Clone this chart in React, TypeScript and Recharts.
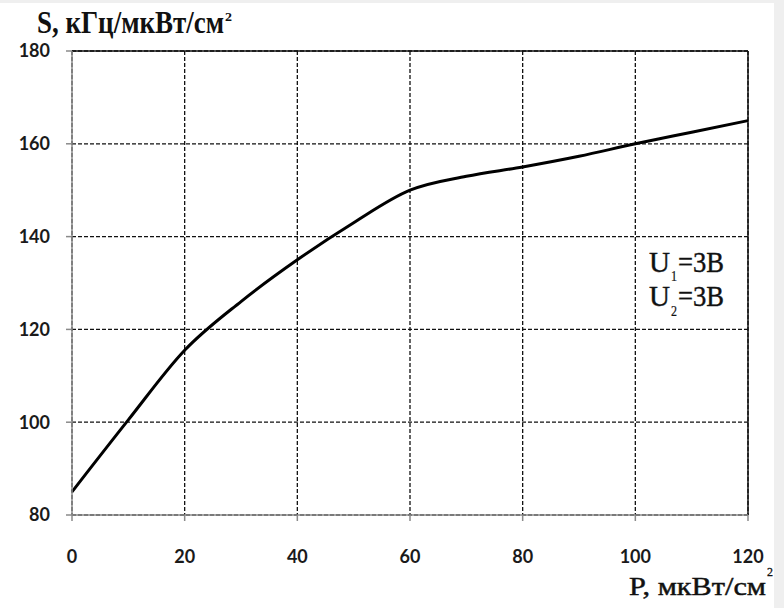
import React from 'react';
import { LineChart, Line, XAxis, YAxis, CartesianGrid, ReferenceLine } from 'recharts';

const pValues = [0, 10, 20, 30, 40, 50, 60, 70, 80, 90, 100, 110, 120];
const sValues = [85, 100.5, 115.5, 126, 135, 143, 150, 153, 155, 157.3, 160, 162.5, 165];
const xTicks = [0, 20, 40, 60, 80, 100, 120];
const yTicks = [80, 100, 120, 140, 160, 180];
const yTitle = 'S, кГц/мкВт/см';
const xTitle = 'P, мкВт/см';
const noteLines = [
  { u: 'U', sub: '1', rest: '=3В' },
  { u: 'U', sub: '2', rest: '=3В' },
];

const data = pValues.map((p, i) => ({ p, s: sValues[i] }));

type STProps = { x: number; y: number; t: string; w: number; fs: number; sy: number; bold?: boolean; sw?: number };
const ST = ({ x, y, t, w, fs, sy, bold, sw }: STProps) => (
  <text
    transform={`translate(${x},${y}) scale(1,${sy})`}
    fontFamily="'Liberation Serif', 'Times New Roman', serif"
    fontSize={fs}
    fontWeight={bold ? 'bold' : 'normal'}
    fill="#111"
    stroke={sw ? '#111' : undefined}
    strokeWidth={sw}
    textLength={w}
    lengthAdjust="spacingAndGlyphs"
  >
    {t}
  </text>
);

const tickStyle = { fontFamily: 'Lato, sans-serif', fontWeight: 'bold', fontSize: 18, fill: '#1a1a1a' };

export default function App() {
  return (
    <div style={{ position: 'absolute', left: 0, top: 0, width: 784, height: 608, background: '#efefef' }}>
      <div style={{ position: 'absolute', left: 0, top: 3, width: 774, height: 605, background: '#fff' }} />
      <div style={{ position: 'absolute', left: 0, top: 0 }}>
        <LineChart width={784} height={608} data={data} margin={{ top: 51, right: 36, bottom: 0, left: 0 }}>
          <CartesianGrid stroke="#111" strokeDasharray="4 2" strokeWidth={1.3} />
          <XAxis
            dataKey="p"
            type="number"
            domain={[0, 120]}
            ticks={xTicks}
            height={93}
            stroke="#8a8a8a"
            strokeWidth={1.5}
            tickSize={6}
            tickMargin={29}
            tick={tickStyle}
            interval={0}
          />
          <YAxis
            type="number"
            domain={[80, 180]}
            ticks={yTicks}
            width={72}
            stroke="#8a8a8a"
            strokeWidth={1.5}
            tickSize={6}
            tickMargin={16}
            tick={tickStyle}
            interval={0}
          />
          <ReferenceLine y={180} stroke="#111" strokeWidth={1.5} />
          <ReferenceLine x={120} stroke="#111" strokeWidth={1.5} />
          <Line
            type="monotone"
            dataKey="s"
            stroke="#000"
            strokeWidth={3}
            dot={false}
            isAnimationActive={false}
          />
        </LineChart>
      </div>
      <svg width={784} height={608} style={{ position: 'absolute', left: 0, top: 0, pointerEvents: 'none' }}>
        <ST x={37} y={33} t={yTitle} w={187} fs={22} sy={1.42} bold />
        <ST x={225} y={21} t="2" w={7} fs={13} sy={1.0} bold />
        <ST x={629} y={595} t={xTitle} w={137} fs={22} sy={1.17} sw={0.4} />
        <ST x={767} y={576} t="2" w={6} fs={13} sy={1.0} sw={0.3} />
        {noteLines.map((l, i) => (
          <g key={i}>
            <ST x={649} y={272 + i * 34} t={l.u} w={21} fs={22} sy={1.3} sw={0.3} />
            <ST x={671} y={281 + i * 35} t={l.sub} w={6} fs={13} sy={1.15} sw={0.2} />
            <ST x={678} y={272 + i * 34} t={l.rest} w={46} fs={22} sy={1.3} sw={0.3} />
          </g>
        ))}
      </svg>
    </div>
  );
}
